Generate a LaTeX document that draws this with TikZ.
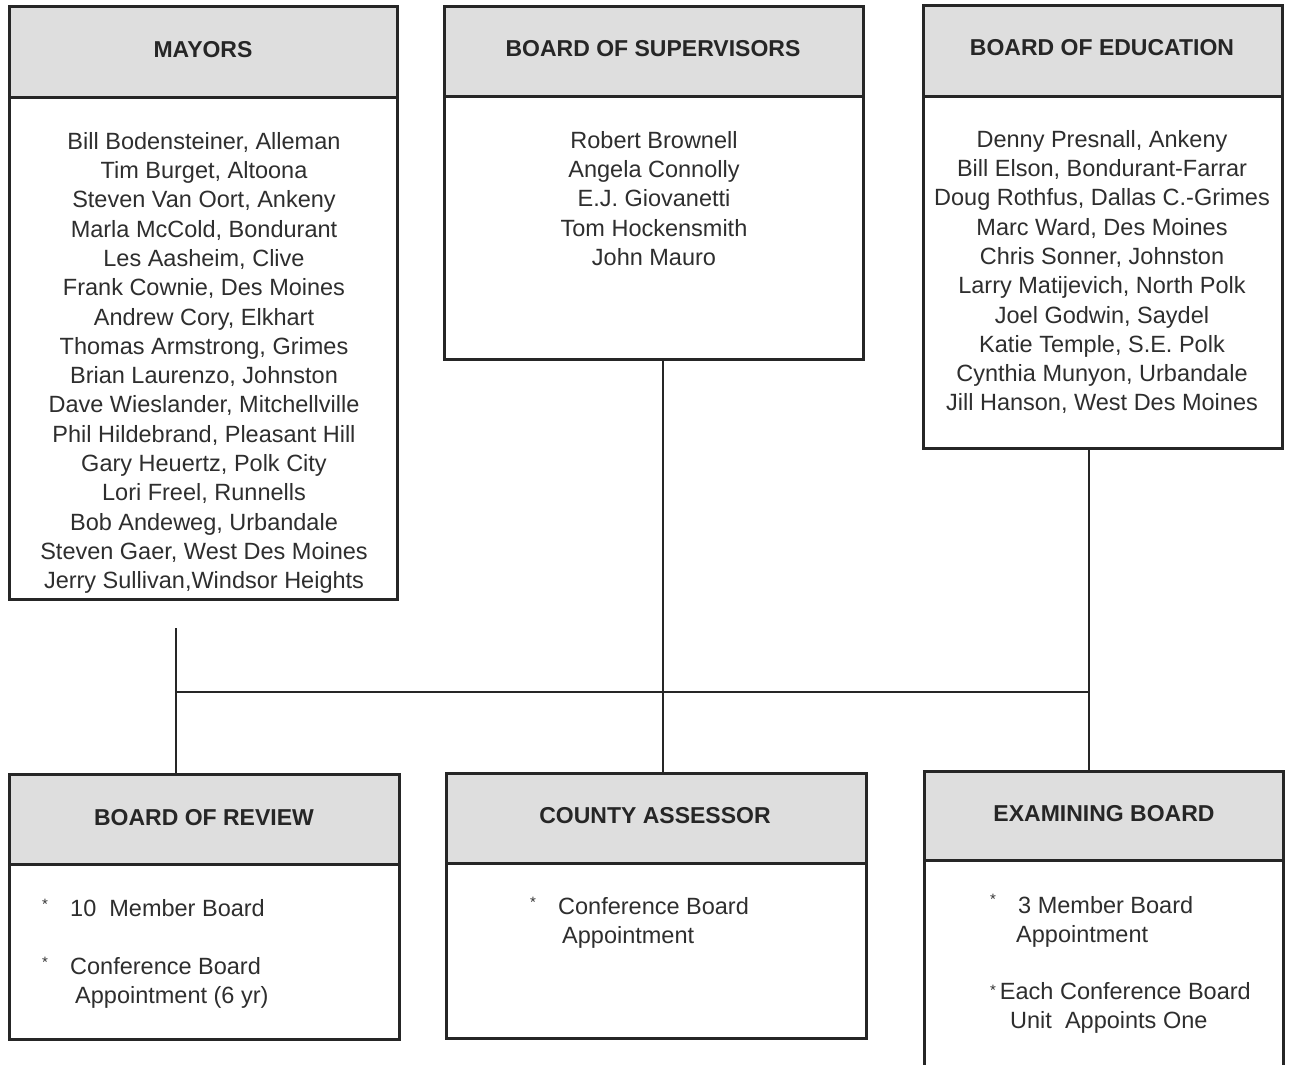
\documentclass[tikz,border=0pt]{standalone}
\usepackage{fontspec}
\setmainfont{Liberation Sans}
\begin{document}
\begin{tikzpicture}[x=1pt,y=-1pt,
  boxst/.style={draw=black!85,line width=2.6pt,fill=white,anchor=north west,inner sep=0pt},
  headst/.style={draw=black!85,line width=2.6pt,fill=black!13,anchor=north west,inner sep=0pt},
  headtxt/.style={font=\fontsize{23}{26}\selectfont\bfseries,text=black!85},
  listtxt/.style={font=\fontsize{23.5}{29.3}\selectfont,text=black!82,align=center,anchor=north,inner sep=0pt},
  itemtxt/.style={font=\fontsize{23.5}{29.3}\selectfont,text=black!82,align=left,anchor=north west,inner sep=0pt},
  bul/.style={font=\fontsize{15}{15}\selectfont,text=black!80,inner sep=0pt},
  conn/.style={draw=black!85,line width=1.6pt}]
\useasboundingbox (0,0) rectangle (1290,1065);
\fill[white] (0,0) rectangle (1290,1065);

% ---------- top boxes ----------
\node[boxst,minimum width=388,minimum height=593] (mayors) at (8,5) {};
\node[headst,minimum width=388,minimum height=91] (mayorsH) at (8,5) {};
\node[headtxt] (mayorsT) at (203,50) {MAYORS};
\node[listtxt] (mayorsL) at (204,132) {Bill Bodensteiner, Alleman\\Tim Burget, Altoona\\Steven Van Oort, Ankeny\\Marla McCold, Bondurant\\Les Aasheim, Clive\\Frank Cownie, Des Moines\\Andrew Cory, Elkhart\\Thomas Armstrong, Grimes\\Brian Laurenzo, Johnston\\Dave Wieslander, Mitchellville\\Phil Hildebrand, Pleasant Hill\\Gary Heuertz, Polk City\\Lori Freel, Runnells\\Bob Andeweg, Urbandale\\Steven Gaer, West Des Moines\\Jerry Sullivan,Windsor Heights};

\node[boxst,minimum width=419,minimum height=353] (bos) at (443,5) {};
\node[headst,minimum width=419,minimum height=90] (bosH) at (443,5) {};
\node[headtxt] (bosT) at (653,49) {BOARD OF SUPERVISORS};
\node[listtxt] (bosL) at (654,131) {Robert Brownell\\Angela Connolly\\E.J. Giovanetti\\Tom Hockensmith\\John Mauro};

\node[boxst,minimum width=359,minimum height=443] (boe) at (922,4) {};
\node[headst,minimum width=359,minimum height=91] (boeH) at (922,4) {};
\node[headtxt] (boeT) at (1102,48) {BOARD OF EDUCATION};
\node[listtxt] (boeL) at (1102,130) {Denny Presnall, Ankeny\\Bill Elson, Bondurant-Farrar\\Doug Rothfus, Dallas C.-Grimes\\Marc Ward, Des Moines\\Chris Sonner, Johnston\\Larry Matijevich, North Polk\\Joel Godwin, Saydel\\Katie Temple, S.E. Polk\\Cynthia Munyon, Urbandale\\Jill Hanson, West Des Moines};

% ---------- bottom boxes ----------
\node[boxst,minimum width=390,minimum height=265] (bor) at (8,773) {};
\node[headst,minimum width=390,minimum height=90] (borH) at (8,773) {};
\node[headtxt] (borT) at (204,818) {BOARD OF REVIEW};
\node[bul] (borB1) at (45,904) {*};
\node[itemtxt] (borI1) at (70,899) {10\ \ Member Board};
\node[bul] (borB2) at (45,962) {*};
\node[itemtxt] (borI2) at (70,957) {Conference Board\\\hspace*{5pt}Appointment (6 yr)};

\node[boxst,minimum width=420,minimum height=265] (ca) at (445,772) {};
\node[headst,minimum width=420,minimum height=90] (caH) at (445,772) {};
\node[headtxt] (caT) at (655,816) {COUNTY ASSESSOR};
\node[bul] (caB1) at (533,902) {*};
\node[itemtxt] (caI1) at (558,897) {Conference Board\\\hspace*{4pt}Appointment};

\node[boxst,minimum width=359,minimum height=310] (eb) at (923,770) {};
\node[headst,minimum width=359,minimum height=89] (ebH) at (923,770) {};
\node[headtxt] (ebT) at (1104,814) {EXAMINING BOARD};
\node[bul] (ebB1) at (993,899) {*};
\node[itemtxt] (ebI1) at (1016,896) {\hspace*{2pt}3 Member Board\\Appointment};
\node[itemtxt] (ebI2) at (990,982) {\raisebox{4pt}{\fontsize{15}{15}\selectfont *}\,Each Conference Board\\\hspace*{20pt}Unit\ \ Appoints One};

% ---------- connectors ----------
\coordinate (jL) at (176,692);
\coordinate (jM) at (663,692);
\coordinate (jR) at (1089,692);
\coordinate (mayorsEnd) at (176,628);
\draw[conn] (mayorsEnd) -- (bor.north -| jL);
\draw[conn] (bos.south -| jM) -- (ca.north -| jM);
\draw[conn] (boe.south -| jR) -- (eb.north -| jR);
\draw[conn] (jL) -- (jR);
\end{tikzpicture}
\end{document}
